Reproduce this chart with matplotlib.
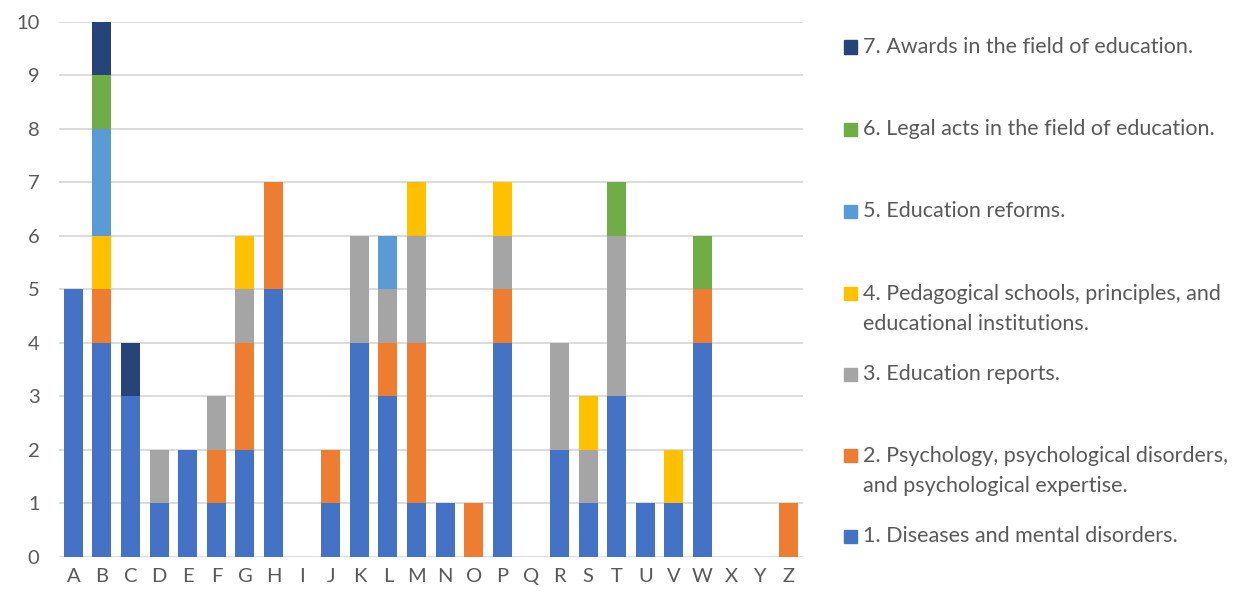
import matplotlib.pyplot as plt
from matplotlib.patches import Rectangle
import numpy as np

# categories A..Z
cats = list("ABCDEFGHIJKLMNOPQRSTUVWXYZ")

# counts per topic (series 1..7), one value per category
s1 = [5, 4, 3, 1, 2, 1, 2, 5, 0, 1, 4, 3, 1, 1, 0, 4, 0, 2, 1, 3, 1, 1, 4, 0, 0, 0]
s2 = [0, 1, 0, 0, 0, 1, 2, 2, 0, 1, 0, 1, 3, 0, 1, 1, 0, 0, 0, 0, 0, 0, 1, 0, 0, 1]
s3 = [0, 0, 0, 1, 0, 1, 1, 0, 0, 0, 2, 1, 2, 0, 0, 1, 0, 2, 1, 3, 0, 0, 0, 0, 0, 0]
s4 = [0, 1, 0, 0, 0, 0, 1, 0, 0, 0, 0, 0, 1, 0, 0, 1, 0, 0, 1, 0, 0, 1, 0, 0, 0, 0]
s5 = [0, 2, 0, 0, 0, 0, 0, 0, 0, 0, 0, 1, 0, 0, 0, 0, 0, 0, 0, 0, 0, 0, 0, 0, 0, 0]
s6 = [0, 1, 0, 0, 0, 0, 0, 0, 0, 0, 0, 0, 0, 0, 0, 0, 0, 0, 0, 1, 0, 0, 1, 0, 0, 0]
s7 = [0, 1, 1, 0, 0, 0, 0, 0, 0, 0, 0, 0, 0, 0, 0, 0, 0, 0, 0, 0, 0, 0, 0, 0, 0, 0]

labels = ["1. Diseases and mental disorders.",
          "2. Psychology, psychological disorders,\nand psychological expertise.",
          "3. Education reports.",
          "4. Pedagogical schools, principles, and\neducational institutions.",
          "5. Education reforms.",
          "6. Legal acts in the field of education.",
          "7. Awards in the field of education."]
colors = ["#4472C4", "#ED7D31", "#A5A5A5", "#FFC000", "#5B9BD5", "#70AD47", "#264478"]

series = [s1, s2, s3, s4, s5, s6, s7]

plt.rcParams['font.family'] = ['Lato', 'DejaVu Sans']
txt = "#595959"

fig = plt.figure(figsize=(12.56, 6.03), dpi=100)
ax = fig.add_axes([0.047, 0.077, 0.592, 0.887])

x = np.arange(len(cats))
bottom = np.zeros(len(cats))
for vals, col in zip(series, colors):
    ax.bar(x, vals, width=0.66, bottom=bottom, color=col, zorder=3)
    bottom += np.array(vals)

ax.set_xlim(-0.5, len(cats) - 0.5)
ax.set_ylim(0, 10)
ax.set_yticks(range(0, 11))
ax.set_xticks(x)
ax.set_xticklabels(cats)
ax.grid(axis='y', color='#D9D9D9', linewidth=1.3, zorder=0)
ax.set_axisbelow(True)
for sp in ax.spines.values():
    sp.set_visible(False)
ax.tick_params(length=0, labelsize=14.5, colors=txt, pad=8)
ax.tick_params(axis='y', pad=14)

# legend, drawn by hand (reverse order, marker aligned to first line)
ys = [47, 129, 211, 293, 374, 455, 536]  # pixel rows from top
H = 603.0
for i, (lab, col) in enumerate(zip(labels[::-1], colors[::-1])):
    yf = 1 - ys[i] / H
    fig.patches.append(Rectangle((844 / 1256, yf - 6.5 / H), 13 / 1256, 13 / H,
                                 transform=fig.transFigure, color=col))
    if '\n' in lab:
        fig.text(863 / 1256, yf + 9 / H, lab, fontsize=15.5, color=txt, va='top',
                 linespacing=1.65)
    else:
        fig.text(863 / 1256, yf, lab, fontsize=15.5, color=txt, va='center')

fig.savefig("out.png", dpi=100)
